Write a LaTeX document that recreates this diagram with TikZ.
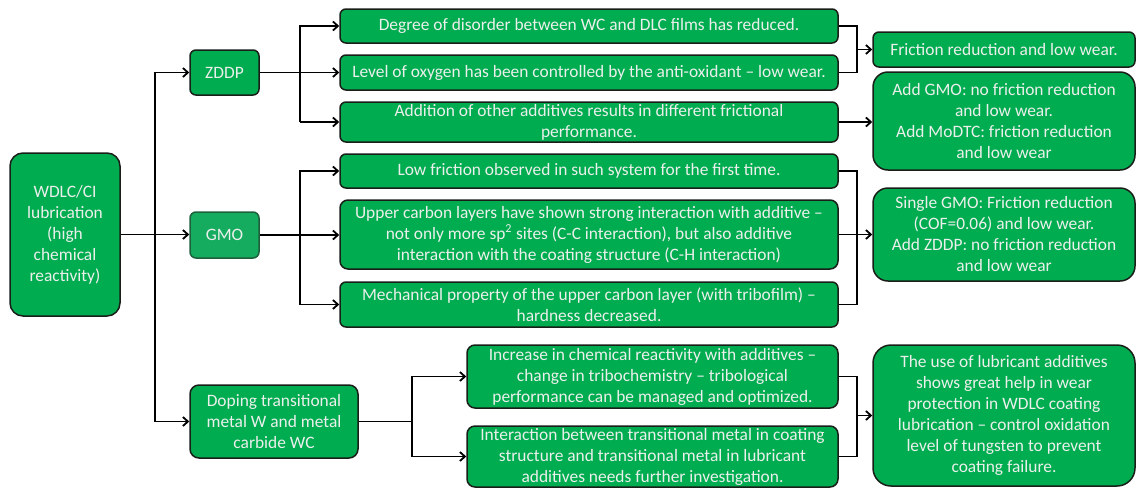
\documentclass[tikz,border=0pt]{standalone}
\usepackage{fontspec}
\setmainfont{Carlito}
\usetikzlibrary{arrows.meta}
\definecolor{boxgreen}{RGB}{0,172,80}
\definecolor{gmogreen}{RGB}{22,172,96}
\definecolor{gmoedge}{RGB}{30,95,60}
\definecolor{boxtext}{RGB}{236,240,236}
\definecolor{edge}{RGB}{25,30,25}
\newcommand{\fnt}{\fontsize{17.4}{21}\selectfont}
\tikzset{
  box/.style={draw=edge, line width=1.5pt, fill=boxgreen, text=boxtext,
    rounded corners=6pt, align=center, inner sep=1pt, font=\fnt},
  link/.style={draw=black, line width=1.8pt, line join=miter},
  arr/.style={link, -{Straight Barb[length=5pt,width=9pt,line width=1.8pt]}}
}
\begin{document}
\begin{tikzpicture}[x=1pt,y=-1pt]
\useasboundingbox (0,0) rectangle (1137,488);
% level 0
\node[box, rounded corners=13pt, minimum width=110pt, minimum height=163pt] (root) at (65,234.5)
  {WDLC/CI\\lubrication\\(high\\chemical\\reactivity)};
% level 1
\node[box, minimum width=69pt, minimum height=45pt] (zddp) at (224.5,72.5) {ZDDP};
\node[box, fill=gmogreen, draw=gmoedge, minimum width=69pt, minimum height=46pt] (gmo) at (224.5,235) {GMO};
\node[box, rounded corners=9pt, minimum width=168pt, minimum height=73pt] (dop) at (274,421.5)
  {Doping transitional\\metal W and metal\\carbide WC};
% level 2
\node[box, minimum width=498pt, minimum height=34pt] (z1) at (589,26)
  {Degree of disorder between WC and DLC films has reduced.};
\node[box, minimum width=498pt, minimum height=35pt] (z2) at (589,72.5)
  {Level of oxygen has been controlled by the anti-oxidant – low wear.};
\node[box, minimum width=498pt, minimum height=40pt] (z3) at (589,122)
  {Addition of other additives results in different frictional\\performance.};
\node[box, minimum width=498pt, minimum height=34pt] (g1) at (589,171)
  {Low friction observed in such system for the first time.};
\node[box, rounded corners=8pt, minimum width=498pt, minimum height=69pt] (g2) at (589,234.5)
  {Upper carbon layers have shown strong interaction with additive –\\not only more sp\textsuperscript{2} sites (C-C interaction), but also additive\\interaction with the coating structure (C-H interaction)};
\node[box, minimum width=498pt, minimum height=45pt] (g3) at (589,304.5)
  {Mechanical property of the upper carbon layer (with tribofilm) –\\hardness decreased.};
\node[box, rounded corners=8pt, minimum width=371pt, minimum height=63pt] (d1) at (652.5,376.5)
  {Increase in chemical reactivity with additives –\\change in tribochemistry – tribological\\performance can be managed and optimized.};
\node[box, rounded corners=8pt, minimum width=371pt, minimum height=61pt] (d2) at (652.5,456.5)
  {Interaction between transitional metal in coating\\structure and transitional metal in lubricant\\additives needs further investigation.};
% level 3
\node[box, minimum width=262pt, minimum height=35pt] (r1) at (1004,49.5)
  {Friction reduction and low wear.};
\node[box, rounded corners=15pt, minimum width=262pt, minimum height=98pt] (r2) at (1004,121)
  {Add GMO: no friction reduction\\and low wear.\\Add MoDTC: friction reduction\\and low wear};
\node[box, rounded corners=15pt, minimum width=262pt, minimum height=93pt] (r3) at (1004,234.5)
  {Single GMO: Friction reduction\\(COF=0.06) and low wear.\\Add ZDDP: no friction reduction\\and low wear};
\node[box, rounded corners=18pt, minimum width=262pt, minimum height=141pt] (r4) at (1004,415.5)
  {The use of lubricant additives\\shows great help in wear\\protection in WDLC coating\\lubrication – control oxidation\\level of tungsten to prevent\\coating failure.};
% trunk coordinates
\coordinate (ta) at (155,0);
\coordinate (tb) at (300,0);
\coordinate (tc) at (412,0);
\coordinate (td) at (857,0);
% root connections
\draw[arr] (root.east) -- (root.east -| gmo.west);
\draw[arr] (ta |- dop.west) -- (ta |- zddp.west) -- (zddp.west);
\draw[arr] (ta |- dop.west) -- (dop.west);
% ZDDP branch
\draw[arr] (zddp.east) -- (zddp.east -| z2.west);
\draw[arr] (tb |- z3.west) -- (tb |- z1.west) -- (z1.west);
\draw[arr] (tb |- z3.west) -- (z3.west);
% GMO branch
\draw[arr] (gmo.east) -- (gmo.east -| g2.west);
\draw[arr] (tb |- g3.west) -- (tb |- g1.west) -- (g1.west);
\draw[arr] (tb |- g3.west) -- (g3.west);
% Doping branch
\draw[link] (dop.east) -- (tc |- dop.east);
\draw[arr] (tc |- d2.west) -- (tc |- d1.west) -- (d1.west);
\draw[arr] (tc |- d2.west) -- (d2.west);
% right joins
\draw[link] (z1.east) -- (td |- z1.east) -- (td |- z2.east) -- (z2.east);
\draw[arr] (td |- r1.west) -- (r1.west);
\draw[arr] (z3.east) -- (z3.east -| r2.west);
\draw[link] (g1.east) -- (td |- g1.east) -- (td |- g3.east) -- (g3.east);
\draw[arr] (g2.east) -- (g2.east -| r3.west);
\draw[link] (d1.east) -- (td |- d1.east) -- (td |- d2.east) -- (d2.east);
\draw[arr] (td |- r4.west) -- (r4.west);
\end{tikzpicture}
\end{document}
